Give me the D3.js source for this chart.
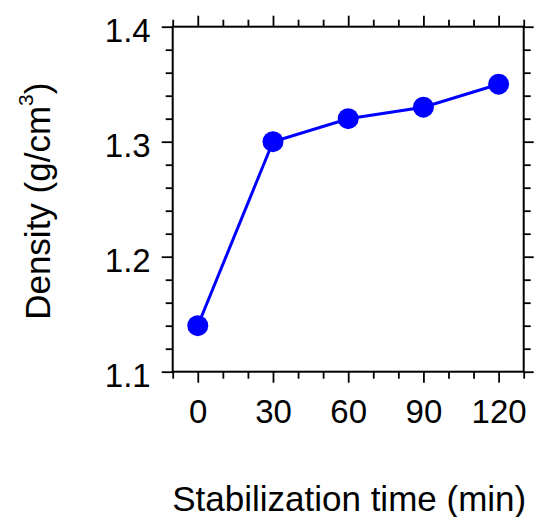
<!DOCTYPE html>
<html>
<head>
<meta charset="utf-8">
<script src="https://cdn.jsdelivr.net/npm/d3@7"></script>
<style>
  html, body { margin: 0; padding: 0; background: #fff; }
  svg { display: block; }
  text { font-family: "Liberation Sans", Arial, sans-serif; fill: #000; }
</style>
</head>
<body>
<svg id="chart" width="536" height="517"></svg>
<script>
// Stabilization time (min) and measured density (g/cm^3)
const times = [0, 30, 60, 90, 120];
const density = [1.14, 1.30, 1.32, 1.33, 1.35];

// Axis tick values and labels
const xMajorTicks = [0, 30, 60, 90, 120];
const xMinorTicks = [-10, 10, 20, 40, 50, 70, 80, 100, 110, 130];
const yMajorTicks = [1.1, 1.2, 1.3, 1.4];
const yTickLabels = ["1.1", "1.2", "1.3", "1.4"];
const yMinorTicks = [1.12, 1.14, 1.16, 1.18, 1.22, 1.24, 1.26, 1.28, 1.32, 1.34, 1.36, 1.38];

const xDomain = [-10, 130];
const yDomain = [1.1, 1.4];

const svg = d3.select("#chart");
const plotLeft = 172.7, plotRight = 523.7, plotTop = 26.7, plotBottom = 371.7;

const x = d3.scaleLinear().domain(xDomain).range([plotLeft, plotRight]);
const y = d3.scaleLinear().domain(yDomain).range([plotBottom, plotTop]);

function styleAxis(g, width) {
  g.select(".domain").remove();
  g.selectAll(".tick line").attr("stroke", "#000").attr("stroke-width", width);
}

// bottom axis: labelled majors plus minors
svg.append("g").attr("transform", `translate(0,${plotBottom})`)
  .call(d3.axisBottom(x).tickValues(xMinorTicks).tickSize(7).tickFormat(""))
  .call(g => styleAxis(g, 1.8));
svg.append("g").attr("transform", `translate(0,${plotBottom})`)
  .call(d3.axisBottom(x).tickValues(xMajorTicks).tickSize(11).tickPadding(0).tickFormat(d3.format("d")))
  .call(g => styleAxis(g, 1.8))
  .call(g => g.selectAll(".tick text")
    .attr("y", 51.5).attr("dy", null)
    .style("font-size", "33px")
    .style("font-family", "'Liberation Sans', Arial, sans-serif")
    .attr("fill", "#000"));

// top axis
svg.append("g").attr("transform", `translate(0,${plotTop})`)
  .call(d3.axisTop(x).tickValues(xMinorTicks).tickSize(7).tickFormat(""))
  .call(g => styleAxis(g, 1.8));
svg.append("g").attr("transform", `translate(0,${plotTop})`)
  .call(d3.axisTop(x).tickValues(xMajorTicks).tickSize(11).tickFormat(""))
  .call(g => styleAxis(g, 1.8));

// left axis
svg.append("g").attr("transform", `translate(${plotLeft},0)`)
  .call(d3.axisLeft(y).tickValues(yMinorTicks).tickSize(7).tickFormat(""))
  .call(g => styleAxis(g, 1.8));
svg.append("g").attr("transform", `translate(${plotLeft},0)`)
  .call(d3.axisLeft(y).tickValues(yMajorTicks).tickSize(11).tickPadding(11)
    .tickFormat((d, i) => yTickLabels[i]))
  .call(g => styleAxis(g, 1.8))
  .call(g => g.selectAll(".tick text")
    .attr("dy", null).attr("y", 14.5)
    .style("font-size", "33px")
    .style("font-family", "'Liberation Sans', Arial, sans-serif")
    .attr("fill", "#000"));

// right axis
svg.append("g").attr("transform", `translate(${plotRight},0)`)
  .call(d3.axisRight(y).tickValues(yMinorTicks).tickSize(7).tickFormat(""))
  .call(g => styleAxis(g, 1.8));
svg.append("g").attr("transform", `translate(${plotRight},0)`)
  .call(d3.axisRight(y).tickValues(yMajorTicks).tickSize(10).tickFormat(""))
  .call(g => styleAxis(g, 1.8));

// plot frame
svg.append("rect")
  .attr("x", plotLeft).attr("y", plotTop)
  .attr("width", plotRight - plotLeft).attr("height", plotBottom - plotTop)
  .attr("fill", "none").attr("stroke", "#000").attr("stroke-width", 2);

// data line and markers
const pts = times.map((t, i) => [t, density[i]]);
svg.append("path")
  .datum(pts)
  .attr("fill", "none")
  .attr("stroke", "#0000ff")
  .attr("stroke-width", 3)
  .attr("d", d3.line().x(d => x(d[0])).y(d => y(d[1])));

svg.selectAll("circle.pt")
  .data(pts)
  .join("circle")
  .attr("class", "pt")
  .attr("cx", d => x(d[0]))
  .attr("cy", d => y(d[1]))
  .attr("r", 10.5)
  .attr("fill", "#0000ff");

// axis titles
svg.append("text")
  .attr("x", (plotLeft + plotRight) / 2 + 1)
  .attr("y", 511)
  .attr("text-anchor", "middle")
  .style("font-size", "35px")
  .text("Stabilization time (min)");

const yt = svg.append("text")
  .attr("transform", `translate(50,${(plotTop + plotBottom) / 2 + 2}) rotate(-90)`)
  .attr("text-anchor", "middle")
  .style("font-size", "35px");
yt.append("tspan").text("Density (g/cm");
yt.append("tspan").attr("dy", -17).style("font-size", "21px").text("3");
yt.append("tspan").attr("dy", 17).text(")");
</script>
</body>
</html>
